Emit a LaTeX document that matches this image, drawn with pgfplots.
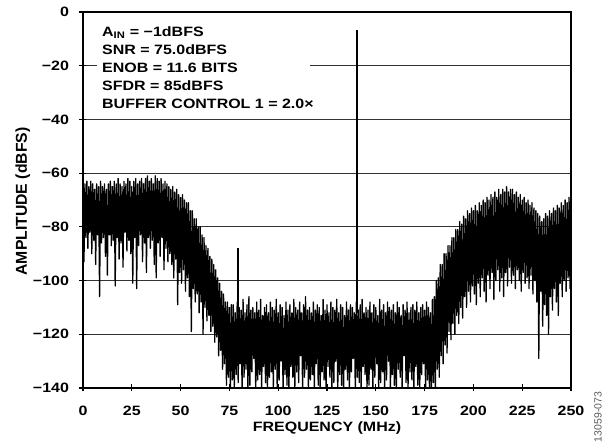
\documentclass[border=0pt]{standalone}
\usepackage{pgfplots}
\pgfplotsset{compat=1.18}
\usepackage{fontspec}
\setmainfont{Liberation Sans}
\newcommand\lab{\fontsize{13.6}{16}\selectfont\bfseries}
\newcommand\sx[1]{\scalebox{1.18}[1]{#1}}

\begin{document}
\begin{tikzpicture}
\begin{axis}[
  at={(0,0)}, anchor=south west,
  scale only axis, width=488bp, height=376bp,
  xmin=0, xmax=250, ymin=-140, ymax=0,
  xtick={0,25,...,250},
  xticklabels={\sx{0},\sx{25},\sx{50},\sx{75},\sx{100},\sx{125},\sx{150},\sx{175},\sx{200},\sx{225},\sx{250}},
  ytick={0,-20,-40,-60,-80,-100,-120,-140},
  yticklabels={\sx{0},\sx{−20},\sx{−40},\sx{−60},\sx{−80},\sx{−100},\sx{−120},\sx{−140}},
  xtick pos=bottom, ytick pos=left,
  tick align=center, major tick length=7bp,
  tick style={line width=1.2bp, black},
  axis line style={line width=1.4bp},
  ymajorgrids, grid style={line width=1bp, black!80},
  xticklabel style={font=\lab, anchor=base, inner sep=0pt, yshift=-24.5bp},
  yticklabel style={font=\lab, anchor=east, inner sep=0pt, xshift=-10.3bp},
]
% spectrum: alternating peak / trough samples every 0.5 MHz
\addplot[black, line width=1.3bp, line join=round] coordinates {
(0,-62) (0.5,-93) (1,-64) (1.5,-84) (2,-63) (2.5,-88) (3,-65) (3.5,-82) (4,-63) (4.5,-90) (5,-64) (5.5,-85) (6,-66) (6.5,-94) (7,-64) (7.5,-83) (8,-65) (8.5,-106) (9,-63) (9.5,-86)
(10,-65) (10.5,-84) (11,-64) (11.5,-91) (12,-66) (12.5,-98) (13,-64) (13.5,-83) (14,-63) (14.5,-87) (15,-65) (15.5,-85) (16,-63) (16.5,-102) (17,-64) (17.5,-84) (18,-62) (18.5,-92) (19,-64) (19.5,-86)
(20,-65) (20.5,-95) (21,-63) (21.5,-82) (22,-64) (22.5,-89) (23,-62) (23.5,-85) (24,-63) (24.5,-90) (25,-65) (25.5,-101) (26,-63) (26.5,-84) (27,-62) (27.5,-103) (28,-64) (28.5,-87) (29,-63) (29.5,-83)
(30,-62) (30.5,-93) (31,-64) (31.5,-86) (32,-62) (32.5,-97) (33,-61) (33.5,-84) (34,-63) (34.5,-88) (35,-62) (35.5,-85) (36,-64) (36.5,-94) (37,-61) (37.5,-99) (38,-62) (38.5,-86) (39,-63) (39.5,-91)
(40,-62) (40.5,-84) (41,-64) (41.5,-96) (42,-63) (42.5,-88) (43,-64) (43.5,-93) (44,-65) (44.5,-90)
(45,-66) (45.5,-94) (46,-65) (46.5,-99) (47,-67) (47.5,-92) (48,-66) (48.5,-109) (49,-68) (49.5,-97) (50,-69) (50.5,-101) (51,-68) (51.5,-96) (52,-70) (52.5,-104) (53,-71) (53.5,-99) (54,-71) (54.5,-106)
(55,-74) (55.5,-119) (56,-74) (56.5,-103) (57,-77) (57.5,-108) (58,-77) (58.5,-105) (59,-80) (59.5,-112) (60,-80) (60.5,-108) (61,-83) (61.5,-120) (62,-84) (62.5,-110) (63,-87) (63.5,-115) (64,-88) (64.5,-113)
(65,-91) (65.5,-119) (66,-92) (66.5,-117) (67,-94) (67.5,-123) (68,-96) (68.5,-121) (69,-99) (69.5,-128) (70,-101) (70.5,-126) (71,-104) (71.5,-133) (72,-105) (72.5,-131) (73,-108) (73.5,-139) (74,-108) (74.5,-136)
(75,-110) (75.5,-141) (76,-109) (76.5,-137)
(77,-109) (77.5,-141) (78,-112) (78.5,-135) (79,-108) (79.5,-138) (80,-110) (80.5,-131) (81,-111) (81.5,-141) (82,-107) (82.5,-136) (83,-112) (83.5,-133) (84,-109) (84.5,-141) (85,-106) (85.5,-139) (86,-111) (86.5,-134)
(87,-110) (87.5,-129) (88,-112) (88.5,-141) (89,-108) (89.5,-137) (90,-111) (90.5,-135) (91,-107) (91.5,-141) (92,-113) (92.5,-132) (93,-110) (93.5,-138) (94,-109) (94.5,-141) (95,-112) (95.5,-136) (96,-108) (96.5,-134)
(97,-110) (97.5,-140) (98,-111) (98.5,-133) (99,-107) (99.5,-141) (100,-112) (100.5,-137) (101,-109) (101.5,-130) (102,-110) (102.5,-141) (103,-113) (103.5,-135) (104,-108) (104.5,-139) (105,-111) (105.5,-141) (106,-109) (106.5,-132)
(107,-112) (107.5,-136) (108,-107) (108.5,-141) (109,-110) (109.5,-134) (110,-111) (110.5,-138) (111,-108) (111.5,-128) (112,-112) (112.5,-141) (113,-109) (113.5,-136) (114,-106) (114.5,-133) (115,-111) (115.5,-141) (116,-110) (116.5,-137)
(117,-112) (117.5,-135) (118,-108) (118.5,-141) (119,-111) (119.5,-131) (120,-109) (120.5,-139) (121,-110) (121.5,-141) (122,-113) (122.5,-134) (123,-107) (123.5,-137) (124,-111) (124.5,-141) (125,-109) (125.5,-132) (126,-112) (126.5,-136)
(127,-108) (127.5,-141) (128,-110) (128.5,-138) (129,-111) (129.5,-130) (130,-107) (130.5,-141) (131,-112) (131.5,-135) (132,-109) (132.5,-139) (133,-110) (133.5,-141) (134,-113) (134.5,-133) (135,-108) (135.5,-137) (136,-111) (136.5,-141)
(137,-109) (137.5,-134) (138,-110) (138.5,-129) (139,-112) (139.5,-141) (140,-108) (140.5,-136) (141,-111) (141.5,-138) (142,-109) (142.5,-141) (143,-107) (143.5,-132) (144,-112) (144.5,-135) (145,-110) (145.5,-141) (146,-111) (146.5,-139)
(147,-108) (147.5,-133) (148,-112) (148.5,-141) (149,-109) (149.5,-136) (150,-110) (150.5,-131) (151,-113) (151.5,-141) (152,-107) (152.5,-138) (153,-111) (153.5,-134) (154,-109) (154.5,-141) (155,-112) (155.5,-137) (156,-108) (156.5,-130)
(157,-110) (157.5,-141) (158,-111) (158.5,-135) (159,-109) (159.5,-139) (160,-112) (160.5,-141) (161,-108) (161.5,-133) (162,-110) (162.5,-136) (163,-113) (163.5,-141) (164,-109) (164.5,-128) (165,-111) (165.5,-138) (166,-108) (166.5,-141)
(167,-112) (167.5,-134) (168,-110) (168.5,-137) (169,-109) (169.5,-141) (170,-111) (170.5,-132) (171,-108) (171.5,-139) (172,-112) (172.5,-141) (173,-110) (173.5,-135) (174,-109) (174.5,-131) (175,-111) (175.5,-141) (176,-108) (176.5,-137)
(177,-110) (177.5,-141)
(178,-112) (178.5,-141) (179,-107) (179.5,-138) (180,-106) (180.5,-141) (181,-100) (181.5,-133) (182,-99) (182.5,-136) (183,-94) (183.5,-128) (184,-94) (184.5,-131) (185,-90) (185.5,-124) (186,-90) (186.5,-127) (187,-87) (187.5,-119)
(188,-87) (188.5,-122) (189,-84) (189.5,-116) (190,-84) (190.5,-120) (191,-81) (191.5,-113) (192,-81) (192.5,-116) (193,-78) (193.5,-110) (194,-79) (194.5,-114) (195,-76) (195.5,-106) (196,-77) (196.5,-110) (197,-74) (197.5,-104)
(198,-75) (198.5,-108) (199,-73) (199.5,-102) (200,-74) (200.5,-105)
(201,-72) (201.5,-109) (202,-74) (202.5,-101) (203,-71) (203.5,-106) (204,-72) (204.5,-99) (205,-70) (205.5,-104) (206,-71) (206.5,-108) (207,-69) (207.5,-98) (208,-70) (208.5,-103) (209,-68) (209.5,-97) (210,-69) (210.5,-107)
(211,-67) (211.5,-100) (212,-69) (212.5,-96) (213,-66) (213.5,-104) (214,-68) (214.5,-99) (215,-66) (215.5,-106) (216,-67) (216.5,-97) (217,-65) (217.5,-102) (218,-67) (218.5,-95) (219,-66) (219.5,-101) (220,-66) (220.5,-98)
(221,-68) (221.5,-103) (222,-67) (222.5,-96) (223,-69) (223.5,-100) (224,-68) (224.5,-104) (225,-70) (225.5,-97) (226,-69) (226.5,-101) (227,-71) (227.5,-99) (228,-70) (228.5,-103) (229,-72) (229.5,-98) (230,-71) (230.5,-105)
(231,-73) (231.5,-100) (232,-74) (232.5,-108) (233,-75) (233.5,-129) (234,-76) (234.5,-104) (235,-78) (235.5,-117) (236,-77) (236.5,-109) (237,-75) (237.5,-113) (238,-76) (238.5,-120) (239,-74) (239.5,-106) (240,-75) (240.5,-111)
(241,-73) (241.5,-103) (242,-74) (242.5,-108) (243,-72) (243.5,-113) (244,-73) (244.5,-101) (245,-71) (245.5,-106) (246,-72) (246.5,-100) (247,-70) (247.5,-104) (248,-71) (248.5,-99) (249,-69) (249.5,-103) (250,-70)
};
% spurs
\addplot[black, line width=1.5bp] coordinates {(79.3,-112) (79.3,-88)};
\addplot[black, line width=2bp] coordinates {(140.2,-112) (140.2,-6.8)};
\end{axis}

% legend box covering the -20 dB grid line
\node[anchor=north west, fill=white, inner sep=0pt, minimum width=213bp, minimum height=93bp] at (14bp,368bp) {};
\node[anchor=base west, inner sep=0pt, font=\lab] at (19bp,351.3bp) {\sx{A\textsubscript{IN} = −1dBFS}};
\node[anchor=base west, inner sep=0pt, font=\lab] at (19bp,333.5bp) {\sx{SNR = 75.0dBFS}};
\node[anchor=base west, inner sep=0pt, font=\lab] at (19bp,315.7bp) {\sx{ENOB = 11.6 BITS}};
\node[anchor=base west, inner sep=0pt, font=\lab] at (19bp,297.8bp) {\sx{SFDR = 85dBFS}};
\node[anchor=base west, inner sep=0pt, font=\lab] at (19bp,279.8bp) {\sx{BUFFER CONTROL 1 = 2.0×}};

% axis titles
\node[anchor=base, inner sep=0pt, font=\lab] at (244bp,-43.5bp) {\sx{FREQUENCY (MHz)}};
\node[anchor=base, rotate=90, inner sep=0pt, font=\fontsize{15.8}{16}\selectfont\bfseries] at (-56bp,186.5bp) {AMPLITUDE (dBFS)};
\node[rotate=90, inner sep=0pt, text=black!65, font=\fontsize{10.5}{11}\selectfont] at (515bp,-29bp) {13059-073};

\path (-83bp,-54bp) rectangle (527bp,388bp);
\end{tikzpicture}
\end{document}
